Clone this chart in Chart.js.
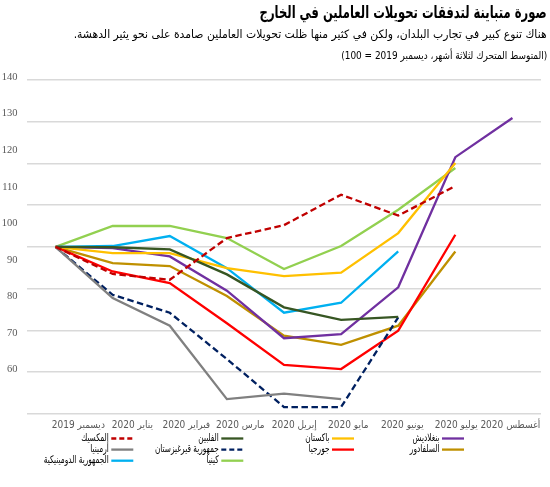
<!DOCTYPE html>
<html lang="ar">
<head>
<meta charset="utf-8">
<script src="https://cdn.jsdelivr.net/npm/chart.js@4.4.1/dist/chart.umd.min.js"></script>
<style>
  html, body { margin: 0; padding: 0; background: #fff; }
  #wrap { position: relative; width: 550px; height: 487px; overflow: hidden; }
  canvas { position: absolute; left: 0; top: 0; }
  .t { position: absolute; right: 3px; direction: rtl; text-align: right; white-space: nowrap; color: #000;
       font-family: "DejaVu Sans", sans-serif; transform-origin: right center; }
  #t1 { top: 2px; font-size: 17px; font-weight: bold; }
  #t2 { top: 27px; font-size: 11.5px; }
  #t3 { top: 49px; font-size: 10.5px; }
</style>
</head>
<body>
<div id="wrap">
  <canvas id="c" width="550" height="487"></canvas>
  <div class="t" id="t1" data-w="287">صورة متباينة لتدفقات تحويلات العاملين في الخارج</div>
  <div class="t" id="t2" data-w="473">هناك تنوع كبير في تجارب البلدان، ولكن في كثير منها ظلت تحويلات العاملين صامدة على نحو يثير الدهشة.</div>
  <div class="t" id="t3" data-w="206">(المتوسط المتحرك لثلاثة أشهر، ديسمبر 2019 = 100)</div>
</div>
<script>
// ---- data ----
const months = ['ديسمبر 2019', 'يناير 2020', 'فبراير 2020', 'مارس 2020', 'إبريل 2020', 'مايو 2020', 'يونيو 2020', 'يوليو 2020', 'أغسطس 2020'];
const yTickLabels = [140, 130, 120, 110, 100, 90, 80, 70, 60];

const mexico      = [100, 93.5, 92.1, 102.1, 105.2, 112.5, 107.5, 114.6, null];
const philippines = [100, 99.9, 99.4, 93.4, 85.5, 82.5, 83.2, null, null];
const pakistan    = [100, 98.5, 98.5, 94.9, 93.0, 93.8, 103.3, 120.1, null];
const bangladesh  = [100, 99.7, 97.7, 89.5, 78.1, 79.1, 90.3, 121.5, 130.9];
const armenia     = [100, 87.7, 81.1, 63.5, 64.8, 63.5, null, null, null];
const kyrgyz      = [100, 88.5, 84.2, 73.1, 61.6, 61.6, 83.1, null, null];
const georgia     = [100, 94.1, 91.3, 81.7, 71.7, 70.7, 79.9, 102.9, null];
const elSalvador  = [100, 96.1, 95.4, 88.2, 78.7, 76.5, 81.1, 98.9, null];
const dominican   = [100, 100.2, 102.6, 94.9, 84.2, 86.6, 98.9, null, null];
const kenya       = [100, 105.0, 105.0, 102.1, 94.7, 100.2, 108.9, 118.9, null];

const seriesNames = ['المكسيك', 'الفلبين', 'باكستان', 'بنغلاديش', 'أرمينيا', 'جمهورية قيرغيزستان', 'جورجيا', 'السلفادور', 'الجمهورية الدومينيكية', 'كينيا'];
const seriesData = [mexico, philippines, pakistan, bangladesh, armenia, kyrgyz, georgia, elSalvador, dominican, kenya];
const seriesColors = ['#c00000', '#375623', '#ffc000', '#7030a0', '#808080', '#002060', '#ff0000', '#bf9000', '#00b0f0', '#92d050'];
const seriesDashed = [true, false, false, false, false, true, false, false, false, false];

// fit the heading lines to the reference widths (real text, horizontally condensed)
document.querySelectorAll('.t').forEach(el => {
  const w = el.getBoundingClientRect().width;
  const target = parseFloat(el.dataset.w);
  if (w > 0) el.style.transform = 'scaleX(' + (target / w) + ')';
});

// ---- chart ----
const datasets = seriesNames.map((name, i) => ({
  label: name,
  data: seriesData[i],
  borderColor: seriesColors[i],
  backgroundColor: seriesColors[i],
  borderWidth: 2.3,
  borderDash: seriesDashed[i] ? [6.5, 3.5] : [],
  pointRadius: 0,
  pointHoverRadius: 0,
  tension: 0,
  spanGaps: false,
  fill: false,
  xAxisID: 'x',
  yAxisID: 'y'
}));

const legendCols = [133.3, 243.3, 354, 464];   // right end of swatch per column
const legendRows = [438.5, 449.6, 460.7];

const legendPlugin = {
  id: 'gridLegend',
  afterDraw(chart) {
    const ctx = chart.ctx;
    ctx.save();
    ctx.direction = 'rtl';
    ctx.font = '10.5px "DejaVu Sans", sans-serif';
    ctx.textAlign = 'right';
    ctx.textBaseline = 'middle';
    const sx = 27.6 / ctx.measureText(chart.data.datasets[0].label).width;
    chart.data.datasets.forEach((ds, i) => {
      const col = i % 4, row = Math.floor(i / 4);
      const xr = legendCols[col], y = legendRows[row];
      ctx.strokeStyle = ds.borderColor;
      ctx.lineWidth = 2.3;
      ctx.setLineDash(ds.borderDash && ds.borderDash.length ? [5, 3] : []);
      ctx.beginPath();
      ctx.moveTo(xr - 22, y);
      ctx.lineTo(xr, y);
      ctx.stroke();
      ctx.setLineDash([]);
      ctx.fillStyle = '#000';
      ctx.save();
      ctx.translate(xr - 24.5, y);
      ctx.scale(sx, 1);
      ctx.fillText(ds.label, 0, 0);
      ctx.restore();
    });
    ctx.restore();
  }
};

new Chart(document.getElementById('c'), {
  type: 'line',
  data: { labels: months, datasets },
  options: {
    responsive: false,
    animation: false,
    devicePixelRatio: 1,
    layout: { padding: { top: 80, right: 9, bottom: 53.3, left: 0 } },
    plugins: { legend: { display: false }, tooltip: { enabled: false }, title: { display: false } },
    scales: {
      x: {
        type: 'category',
        offset: true,
        grid: { display: false },
        border: { display: false },
        ticks: { display: false },
        afterFit: s => { s.height = 0; }
      },
      x2: {
        type: 'linear',
        position: 'bottom',
        min: -0.95,
        max: 8.5685,
        grid: { display: false, drawTicks: false },
        border: { display: false },
        afterBuildTicks: s => { s.ticks = months.map((m, i) => ({ value: i })); },
        ticks: {
          autoSkip: false, maxRotation: 0, minRotation: 0, padding: 5.8,
          color: '#595959',
          font: { family: '"Liberation Sans Narrow", "DejaVu Sans Condensed", "DejaVu Sans", sans-serif', size: 10 },
          callback: (v, i) => months[i]
        },
        afterFit: s => { s.height = 20; }
      },
      y: {
        type: 'linear',
        position: 'left',
        min: 60,
        max: 140,
        grid: { color: '#d9d9d9', lineWidth: 1.4, drawTicks: false },
        border: { display: false },
        ticks: { display: false, stepSize: 10 },
        afterFit: s => { s.width = 0; }
      },
      y2: {
        type: 'linear',
        position: 'left',
        min: 47.98,
        max: 139.18,
        grid: { display: false, drawTicks: false },
        border: { display: false },
        afterBuildTicks: s => { s.ticks = yTickLabels.map(v => ({ value: v })); },
        ticks: {
          padding: 9.5,
          color: '#595959',
          font: { family: '"Liberation Serif", serif', size: 10.5 }
        },
        afterFit: s => { s.width = 27; }
      }
    }
  },
  plugins: [legendPlugin]
});
</script>
</body>
</html>
